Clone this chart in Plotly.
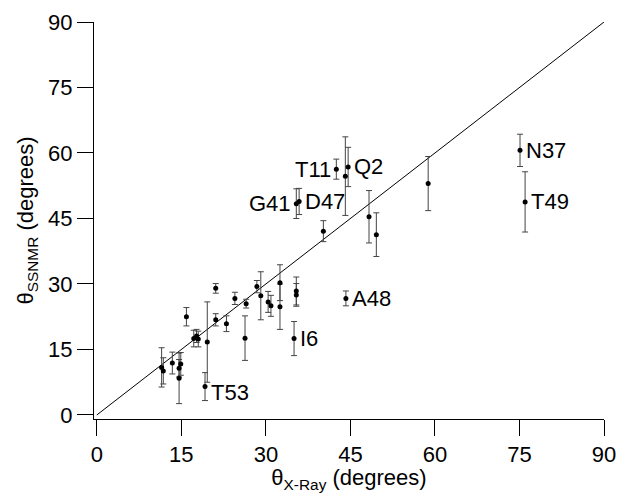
import plotly.graph_objects as go

# theta X-ray (deg), theta SSNMR (deg), SSNMR uncertainty (deg)
theta_xray = [11.5, 11.8, 13.4, 14.6, 14.9, 14.6, 15.9, 17.2, 17.7, 18.0,
              19.2, 19.6, 21.1, 21.1, 23.0, 24.5, 26.5, 26.3, 28.4, 29.1,
              30.4, 30.9, 32.5, 32.5, 35.4, 35.4, 35.0, 35.4, 35.9, 40.2,
              42.5, 44.1, 44.6, 44.2, 48.3, 49.6, 58.8, 75.1, 76.0]
theta_ssnmr = [10.9, 10.1, 11.9, 10.7, 11.7, 8.4, 22.5, 17.5, 18.1, 17.4,
               6.5, 16.7, 29.0, 21.8, 20.9, 26.7, 25.5, 17.6, 29.4, 27.3,
               25.9, 25.0, 30.3, 24.8, 28.4, 27.5, 17.5, 48.4, 48.9, 42.1,
               56.3, 54.7, 56.8, 26.7, 45.4, 41.3, 53.0, 60.6, 48.8]
theta_err = [4.5, 3.0, 2.5, 2.0, 2.6, 5.8, 2.1, 1.9, 1.5, 1.8,
             3.2, 9.2, 1.1, 1.4, 1.8, 1.4, 1.0, 5.1, 1.4, 5.5,
             2.4, 2.4, 4.1, 5.2, 3.2, 2.6, 3.9, 3.4, 3.0, 2.4,
             2.3, 9.0, 4.5, 1.7, 6.0, 5.0, 6.2, 3.7, 6.9]

# residue labels and the index of the point they name
label_text = ["T53", "I6", "G41", "D47", "T11", "Q2", "A48", "N37", "T49"]
label_index = [10, 26, 27, 28, 30, 32, 33, 37, 38]
label_side = ["right", "right", "left", "right", "left", "right", "right", "right", "right"]

identity = [0, 90]
ticks = [0, 15, 30, 45, 60, 75, 90]

FONT = "Liberation Sans, Arial, Helvetica, sans-serif"

fig = go.Figure()
fig.add_trace(go.Scatter(x=identity, y=identity, mode="lines",
                         line=dict(color="black", width=1), hoverinfo="skip"))
fig.add_trace(go.Scatter(
    x=theta_xray, y=theta_ssnmr, mode="markers",
    marker=dict(color="black", size=5),
    error_y=dict(type="data", array=theta_err, visible=True,
                 color="#444444", thickness=1, width=3),
))

for name, idx, side in zip(label_text, label_index, label_side):
    ys = -6 if name == "T53" else 0
    fig.add_annotation(
        x=theta_xray[idx], y=theta_ssnmr[idx], text=name, showarrow=False,
        xanchor="left" if side == "right" else "right",
        xshift=4 if side == "right" else -3, yshift=ys,
        font=dict(family=FONT, size=22, color="black"),
    )

axis_common = dict(
    showgrid=False, zeroline=False, showline=True, linecolor="black", linewidth=1,
    ticks="outside", ticklen=16, tickwidth=1, tickcolor="black",
    tickvals=ticks, ticktext=[str(t) for t in ticks],
    tickfont=dict(family=FONT, size=22, color="black"),
    automargin=False,
)

fig.update_layout(
    width=621, height=493,
    margin=dict(l=94, r=17, t=22, b=74),
    plot_bgcolor="white", paper_bgcolor="white",
    showlegend=False,
    font=dict(family=FONT, color="black"),
    xaxis=dict(range=[-0.5, 90], title=dict(
        text="θ<sub>X-Ray</sub> (degrees)", font=dict(family=FONT, size=22), standoff=2),
        **axis_common),
    yaxis=dict(range=[-0.92, 90], title=dict(
        text="θ<sub>SSNMR</sub> (degrees)", font=dict(family=FONT, size=22), standoff=8),
        **axis_common),
)

fig.write_html(
    "out.html",
    config={"displayModeBar": False},
    post_script="document.body.style.margin='0';document.body.style.overflow='hidden';",
)
